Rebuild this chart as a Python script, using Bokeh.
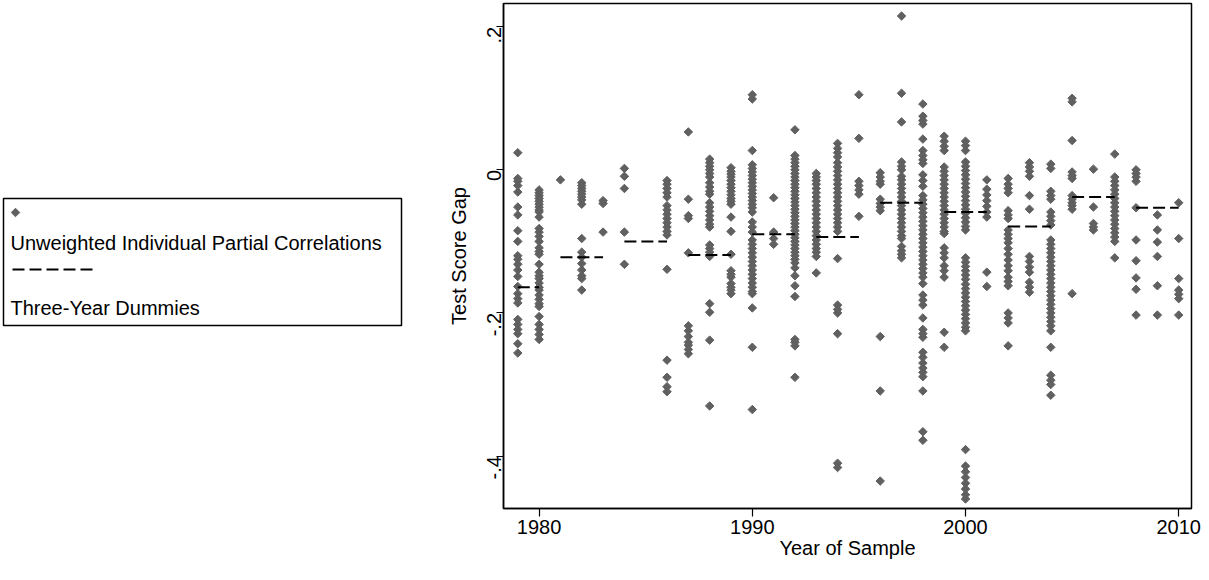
from bokeh.plotting import figure
from bokeh.layouts import row
from bokeh.models import Range1d, FixedTicker
from bokeh.core.properties import value
from bokeh.embed import file_html
from bokeh.resources import INLINE
import math

# ---- data: individual partial correlations by year of sample ----
g1979 = [0.024, -0.012, -0.016, -0.022, -0.031, -0.052, -0.063, -0.085, -0.100, -0.120, -0.125, -0.132,
         -0.140, -0.149, -0.163, -0.173, -0.180, -0.186, -0.209, -0.216, -0.223, -0.229, -0.243, -0.256]
g1980 = [-0.028, -0.032, -0.036, -0.040, -0.044, -0.048, -0.052, -0.056, -0.059, -0.066, -0.082, -0.087,
         -0.093, -0.100, -0.109, -0.114, -0.118, -0.132, -0.143, -0.148, -0.152, -0.158, -0.164, -0.168,
         -0.175, -0.181, -0.187, -0.191, -0.205, -0.216, -0.223, -0.230, -0.237]
g1981 = [-0.014]
g1982 = [-0.018, -0.022, -0.026, -0.030, -0.034, -0.038, -0.042, -0.048, -0.096, -0.115, -0.122, -0.131,
         -0.140, -0.148, -0.152, -0.168]
g1983 = [-0.043, -0.047, -0.087]
g1984 = [0.002, -0.009, -0.026, -0.087, -0.132]
g1985 = []
g1986 = [-0.015, -0.020, -0.026, -0.032, -0.038, -0.050, -0.056, -0.062, -0.068, -0.074, -0.080, -0.086,
         -0.091, -0.139, -0.266, -0.290, -0.303, -0.310]
g1987 = [0.053, -0.041, -0.064, -0.068, -0.116, -0.218, -0.225, -0.233, -0.241, -0.245, -0.251, -0.257]
g1988 = [0.015, 0.010, 0.005, 0.000, -0.005, -0.010, -0.018, -0.024, -0.030, -0.034, -0.046, -0.052,
         -0.058, -0.064, -0.070, -0.076, -0.080, -0.105, -0.110, -0.115, -0.121, -0.187, -0.199, -0.238,
         -0.330]
g1989 = [0.003, -0.002, -0.006, -0.010, -0.015, -0.020, -0.025, -0.030, -0.035, -0.040, -0.044, -0.048,
         -0.066, -0.086, -0.118, -0.141, -0.146, -0.150, -0.159, -0.164, -0.168, -0.173]
g1990 = [0.105, 0.099, 0.027, 0.007, 0.002, -0.003, -0.008, -0.013, -0.018, -0.023, -0.028, -0.033,
         -0.038, -0.043, -0.048, -0.053, -0.059, -0.073, -0.080, -0.087, -0.098, -0.104, -0.110, -0.116,
         -0.122, -0.128, -0.134, -0.140, -0.146, -0.152, -0.158, -0.164, -0.170, -0.173, -0.193, -0.248,
         -0.335]
g1991 = [-0.039, -0.087, -0.096, -0.104]
g1992 = [0.056, 0.020, 0.015, 0.010, 0.005, 0.000, -0.005, -0.010, -0.015, -0.020, -0.025, -0.030,
         -0.035, -0.040, -0.045, -0.050, -0.055, -0.060, -0.065, -0.070, -0.075, -0.080, -0.085, -0.090,
         -0.095, -0.100, -0.105, -0.110, -0.115, -0.120, -0.125, -0.130, -0.137, -0.148, -0.162, -0.177,
         -0.237, -0.241, -0.246, -0.290]
g1993 = [-0.005, -0.010, -0.015, -0.020, -0.026, -0.032, -0.038, -0.044, -0.050, -0.056, -0.062, -0.068,
         -0.074, -0.080, -0.086, -0.092, -0.098, -0.104, -0.110, -0.115, -0.121, -0.144]
g1994 = [0.037, 0.030, 0.024, 0.018, 0.010, 0.004, -0.002, -0.008, -0.014, -0.020, -0.026, -0.032,
         -0.038, -0.044, -0.050, -0.056, -0.062, -0.068, -0.074, -0.080, -0.086, -0.124, -0.189, -0.195,
         -0.200, -0.229, -0.410, -0.416]
g1995 = [0.105, 0.044, -0.016, -0.022, -0.028, -0.034, -0.065]
g1996 = [-0.004, -0.010, -0.016, -0.020, -0.041, -0.047, -0.052, -0.057, -0.233, -0.309, -0.435]
g1997 = [0.215, 0.107, 0.067, 0.011, 0.005, 0.000, -0.009, -0.014, -0.020, -0.026, -0.032, -0.038,
         -0.044, -0.050, -0.056, -0.062, -0.068, -0.074, -0.080, -0.086, -0.092, -0.096, -0.107, -0.113,
         -0.118, -0.123]
g1998 = [0.092, 0.075, 0.069, 0.064, 0.043, 0.027, 0.020, 0.014, 0.009, -0.007, -0.015, -0.023, -0.036,
         -0.042, -0.048, -0.054, -0.060, -0.066, -0.072, -0.078, -0.084, -0.090, -0.096, -0.102, -0.108,
         -0.114, -0.120, -0.126, -0.132, -0.138, -0.144, -0.150, -0.159, -0.175, -0.182, -0.189, -0.207,
         -0.223, -0.229, -0.234, -0.255, -0.262, -0.270, -0.277, -0.283, -0.289, -0.309, -0.366, -0.378]
g1999 = [0.047, 0.040, 0.033, 0.027, 0.004, -0.002, -0.008, -0.014, -0.020, -0.026, -0.032, -0.038,
         -0.044, -0.050, -0.056, -0.062, -0.068, -0.074, -0.080, -0.086, -0.089, -0.109, -0.116, -0.123,
         -0.134, -0.141, -0.150, -0.227, -0.248]
g2000 = [0.040, 0.034, 0.027, 0.011, 0.005, -0.001, -0.007, -0.013, -0.019, -0.025, -0.031, -0.037,
         -0.043, -0.049, -0.055, -0.061, -0.067, -0.073, -0.079, -0.084, -0.123, -0.129, -0.135, -0.141,
         -0.147, -0.153, -0.160, -0.166, -0.172, -0.178, -0.184, -0.190, -0.196, -0.202, -0.208, -0.214,
         -0.220, -0.225, -0.391, -0.414, -0.422, -0.430, -0.438, -0.446, -0.454, -0.460]
g2001 = [-0.014, -0.027, -0.035, -0.043, -0.051, -0.059, -0.066, -0.143, -0.163]
g2002 = [-0.012, -0.020, -0.026, -0.032, -0.057, -0.063, -0.068, -0.084, -0.090, -0.096, -0.102, -0.110,
         -0.118, -0.126, -0.134, -0.141, -0.150, -0.156, -0.162, -0.200, -0.207, -0.214, -0.246]
g2003 = [0.010, 0.004, -0.002, -0.009, -0.036, -0.055, -0.121, -0.128, -0.136, -0.143, -0.157, -0.164,
         -0.171]
g2004 = [0.008, 0.002, -0.030, -0.036, -0.041, -0.059, -0.065, -0.071, -0.077, -0.098, -0.104, -0.110,
         -0.116, -0.122, -0.128, -0.134, -0.140, -0.146, -0.152, -0.158, -0.164, -0.170, -0.176, -0.182,
         -0.188, -0.194, -0.200, -0.206, -0.212, -0.218, -0.225, -0.248, -0.287, -0.294, -0.300, -0.315]
g2005 = [0.100, 0.095, 0.041, -0.003, -0.008, -0.012, -0.036, -0.041, -0.046, -0.050, -0.055, -0.173]
g2006 = [0.001, -0.052, -0.075, -0.080, -0.084]
g2007 = [0.022, -0.010, -0.016, -0.022, -0.028, -0.034, -0.040, -0.046, -0.052, -0.058, -0.064, -0.070,
         -0.076, -0.082, -0.088, -0.094, -0.100, -0.123]
g2008 = [0.000, -0.005, -0.010, -0.016, -0.053, -0.098, -0.127, -0.151, -0.167, -0.203]
g2009 = [-0.063, -0.084, -0.101, -0.121, -0.162, -0.203]
g2010 = [-0.046, -0.096, -0.152, -0.168, -0.174, -0.180, -0.203]

years = list(range(1979, 2011))
gaps_by_year = [g1979, g1980, g1981, g1982, g1983, g1984, g1985, g1986, g1987, g1988, g1989, g1990,
                g1991, g1992, g1993, g1994, g1995, g1996, g1997, g1998, g1999, g2000, g2001, g2002,
                g2003, g2004, g2005, g2006, g2007, g2008, g2009, g2010]

# ---- three-year dummies ----
dummy_start = [1979, 1981, 1984, 1987, 1990, 1993, 1996, 1999, 2002, 2005, 2008]
dummy_end = [1980, 1983, 1986, 1989, 1992, 1995, 1998, 2001, 2004, 2007, 2010]
dummy_value = [-0.164, -0.122, -0.100, -0.119, -0.090, -0.094, -0.046, -0.059, -0.079, -0.038, -0.053]

# ---- axis / legend labels ----
y_ticks = [-0.4, -0.2, 0.0, 0.2]
y_tick_labels = ["-.4", "-.2", "0", ".2"]
x_ticks = [1980, 1990, 2000, 2010]
legend_labels = ["Unweighted Individual Partial Correlations", "Three-Year Dummies"]

FONT = "Liberation Sans"
PT_COLOR = "#606060"

px, py = [], []
for yr, vals in zip(years, gaps_by_year):
    for v in vals:
        px.append(yr)
        py.append(v)

TOP, FRAME_H, BOTTOM = 3, 505, 56
MAIN_LEFT, FRAME_W, MAIN_RIGHT = 64, 688, 10
LEG_W = 1201 - (MAIN_LEFT + FRAME_W + MAIN_RIGHT)

p = figure(frame_width=FRAME_W, frame_height=FRAME_H,
           min_border_left=MAIN_LEFT, min_border_right=MAIN_RIGHT,
           min_border_top=TOP, min_border_bottom=BOTTOM,
           x_range=Range1d(1978.33, 2010.6), y_range=Range1d(-0.4733, 0.2325),
           output_backend="svg", toolbar_location=None)

p.scatter(x=px, y=py, marker="square", angle=math.pi / 4, size=6,
          fill_color=PT_COLOR, line_color=PT_COLOR)
p.segment(x0=dummy_start, x1=dummy_end, y0=dummy_value, y1=dummy_value,
          line_color="black", line_width=2, line_dash="12 5")

p.xgrid.visible = False
p.ygrid.visible = False
p.outline_line_color = "black"
p.outline_line_width = 1.5

p.xaxis.ticker = FixedTicker(ticks=x_ticks)
p.yaxis.ticker = FixedTicker(ticks=y_ticks)
p.yaxis.major_label_overrides = {t: l for t, l in zip(y_ticks, y_tick_labels)}
p.yaxis.major_label_orientation = math.pi / 2
p.xaxis.axis_label = "Year of Sample"
p.yaxis.axis_label = "Test Score Gap"

for ax in (p.xaxis[0], p.yaxis[0]):
    ax.axis_line_color = "black"
    ax.axis_line_width = 1.5
    ax.major_tick_line_color = "black"
    ax.major_tick_line_width = 1.2
    ax.major_tick_out = 8
    ax.major_tick_in = 0
    ax.minor_tick_out = 0
    ax.minor_tick_in = 0
    ax.major_label_text_font = FONT
    ax.major_label_text_font_size = "20px"
    ax.major_label_text_color = "black"
    ax.axis_label_text_font = FONT
    ax.axis_label_text_font_size = "20px"
    ax.axis_label_text_font_style = "normal"
    ax.axis_label_text_color = "black"
    ax.major_label_standoff = 3
    ax.axis_label_standoff = 0
p.yaxis.major_tick_out = 7
p.yaxis.major_label_standoff = 2
p.yaxis.axis_label_standoff = 8

# ---- legend panel: own canvas left of the plot, y range = page pixels of the frame ----
lg = figure(width=LEG_W, frame_height=FRAME_H,
            min_border_left=0, min_border_right=0, min_border_top=TOP, min_border_bottom=BOTTOM,
            x_range=Range1d(0, LEG_W), y_range=Range1d(TOP + FRAME_H, TOP),
            x_axis_location=None, y_axis_location=None, title=None,
            output_backend="svg", toolbar_location=None)
lg.grid.visible = False
lg.outline_line_color = None
lg.quad(left=[3], right=[401], top=[198], bottom=[325], fill_color=None,
        line_color="black", line_width=1.5)
lg.scatter(x=[15], y=[212], marker="square", angle=math.pi / 4, size=6,
           fill_color=PT_COLOR, line_color=PT_COLOR)
lg.text(x=[10], y=[242], text=[legend_labels[0]],
        text_baseline="middle", text_font=value(FONT), text_font_size="20px", text_color="black")
lg.segment(x0=[12], x1=[94], y0=[269], y1=[269], line_color="black", line_width=2, line_dash="12 5")
lg.text(x=[10], y=[307], text=[legend_labels[1]],
        text_baseline="middle", text_font=value(FONT), text_font_size="20px", text_color="black")

layout = row(lg, p)
open("out.html", "w").write(file_html(layout, INLINE))
